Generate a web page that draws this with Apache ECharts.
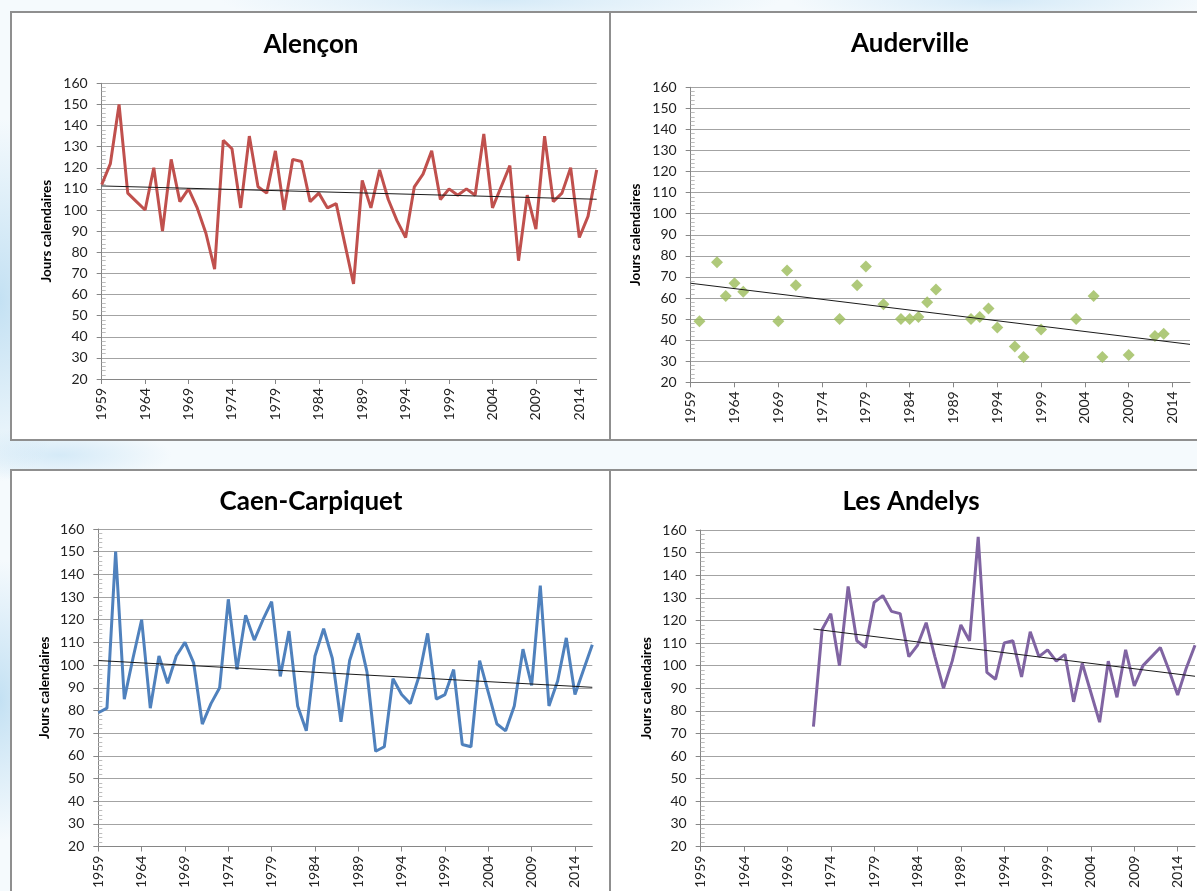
<!DOCTYPE html>
<html>
<head>
<meta charset="utf-8">
<script src="https://cdn.jsdelivr.net/npm/echarts@6/dist/echarts.min.js"></script>
<style>
  html, body { margin:0; padding:0; }
  body {
    width:1197px; height:891px; overflow:hidden; position:relative;
    background:
      radial-gradient(ellipse 120px 260px at 0px 300px, rgba(190,222,242,0.9), rgba(255,255,255,0) 70%),
      radial-gradient(ellipse 160px 40px at 60px 455px, rgba(205,230,246,0.8), rgba(255,255,255,0) 70%),
      radial-gradient(ellipse 400px 40px at 500px 0px, rgba(205,230,246,0.8), rgba(255,255,255,0) 70%),
      radial-gradient(ellipse 300px 40px at 1000px 0px, rgba(205,230,246,0.8), rgba(255,255,255,0) 70%),
      radial-gradient(ellipse 90px 200px at 0px 700px, rgba(190,222,242,0.9), rgba(255,255,255,0) 70%),
      #f5fafd;
  }
  .panel { position:absolute; background:#fff; border:2px solid #8f8f8f; box-sizing:border-box; }
  #chart { position:absolute; left:0; top:0; width:1197px; height:891px; }
</style>
</head>
<body>
<div class="panel" style="left:10px; top:11px; width:601px; height:430px;"></div>
<div class="panel" style="left:609px; top:11px; width:620px; height:430px;"></div>
<div class="panel" style="left:10px; top:469px; width:601px; height:440px;"></div>
<div class="panel" style="left:609px; top:469px; width:620px; height:440px;"></div>
<div id="chart"></div>
<script>
// ---- Data ----
const years = ['1959','1960','1961','1962','1963','1964','1965','1966','1967','1968',
  '1969','1970','1971','1972','1973','1974','1975','1976','1977','1978',
  '1979','1980','1981','1982','1983','1984','1985','1986','1987','1988',
  '1989','1990','1991','1992','1993','1994','1995','1996','1997','1998',
  '1999','2000','2001','2002','2003','2004','2005','2006','2007','2008',
  '2009','2010','2011','2012','2013','2014','2015','2016'];

const titles = ['Alençon', 'Auderville', 'Caen-Carpiquet', 'Les Andelys'];
const yAxisName = 'Jours calendaires';

const alenconValues = [112,122,150,108,104,100,120,90,124,104,
  110,101,89,72,133,129,101,135,111,108,
  128,100,124,123,104,108,101,103,84,65,
  114,101,119,105,95,87,111,117,128,105,
  110,107,110,107,136,101,111,121,76,107,
  91,135,104,108,120,87,97,119];

const audervilleYears = ['1960','1962','1963','1964','1965','1969','1970','1971','1976','1978',
  '1979','1981','1983','1984','1985','1986','1987','1991','1992','1993',
  '1994','1996','1997','1999','2003','2005','2006','2009','2012','2013'];
const audervilleValues = [49,77,61,67,63,49,73,66,50,66,
  75,57,50,50,51,58,64,50,51,55,
  46,37,32,45,50,61,32,33,42,43];

const caenValues = [79,81,150,85,103,120,81,104,92,104,
  110,101,74,83,90,129,98,122,111,120,
  128,95,115,82,71,104,116,103,75,102,
  114,97,62,64,94,87,83,95,114,85,
  87,98,65,64,102,88,74,71,82,107,
  91,135,82,93,112,87,98,109];

const andelysYears = ['1972','1973','1974','1975','1976','1977','1978','1979','1980','1981',
  '1982','1983','1984','1985','1986','1987','1988','1989','1990','1991',
  '1992','1993','1994','1995','1996','1997','1998','1999','2000','2001',
  '2002','2003','2004','2005','2006','2007','2008','2009','2010','2011',
  '2012','2013','2014','2015','2016'];
const andelysValues = [73,116,123,100,135,111,108,128,131,124,
  123,104,109,119,104,90,102,118,111,157,
  97,94,110,111,95,115,104,107,102,105,
  84,101,88,75,102,86,107,91,100,104,
  108,98,87,99,109];

// trend line endpoints (start year, end year) and values
const alenconTrend = { years: ['1959','2016'], values: [111.4, 105.1] };
const audervilleTrend = { years: ['1959','2016'], values: [67, 38] };
const caenTrend = { years: ['1959','2016'], values: [102, 90.2] };
const andelysTrend = { years: ['1972','2016'], values: [116.2, 95.3] };

const yMin = 20, yMax = 160, yStep = 10;

// ---- Layout ----
const grids = [
  { left: 101.7, top: 83.3, width: 495, height: 295.7 },
  { left: 690.7, top: 87.3, width: 499.3, height: 295 },
  { left: 98.3, top: 529, width: 494, height: 317.7 },
  { left: 700.7, top: 530, width: 494.3, height: 317.3 }
];
const titlePos = [[311, 45], [910, 44], [311, 502], [911, 502]];
const nameGaps = [48, 48, 47, 47];

const FONT = 'Lato, "Open Sans", sans-serif';

const chart = echarts.init(document.getElementById('chart'), null, { renderer: 'canvas' });

const xAxes = [], yAxes = [];
grids.forEach((g, i) => {
  xAxes.push({
    type: 'category', gridIndex: i, data: years, boundaryGap: false,
    axisLine: { lineStyle: { color: '#868686', width: 1 } },
    axisTick: { show: true, interval: 4, length: 5, lineStyle: { color: '#868686' } },
    axisLabel: { interval: 4, rotate: 90, margin: 9, color: '#222', fontSize: 14, fontFamily: FONT },
    splitLine: { show: false }
  });
  yAxes.push({
    type: 'value', gridIndex: i, min: yMin, max: yMax, interval: yStep,
    name: yAxisName, nameLocation: 'middle', nameGap: nameGaps[i], nameRotate: 90,
    nameTextStyle: { fontSize: 13.5, fontWeight: 'bold', color: '#000', fontFamily: FONT },
    axisLine: { show: true, lineStyle: { color: '#868686', width: 1 } },
    axisTick: { show: true, length: 5, lineStyle: { color: '#868686' } },
    axisLabel: { margin: 14, color: '#222', fontSize: 14, fontFamily: FONT },
    splitLine: { show: true, lineStyle: { color: '#a3a3a3', width: 1 } }
  });
});
// minor tick axes (inside)
grids.forEach((g, i) => {
  yAxes.push({
    type: 'value', gridIndex: i, min: yMin, max: yMax, interval: yStep, position: 'left',
    axisLine: { show: false }, axisLabel: { show: false }, splitLine: { show: false },
    axisTick: { show: false, inside: true },
    minorTick: { show: true, splitNumber: 5, length: 4, lineStyle: { color: '#bdbdbd', width: 1 } }
  });
});

const trendStyle = { color: '#1a1a1a', width: 1 };
function trendSeries(idx, t) {
  return {
    type: 'line', xAxisIndex: idx, yAxisIndex: idx, symbol: 'none', silent: true, z: 5,
    data: t.years.map((y, k) => [y, t.values[k]]),
    lineStyle: trendStyle, itemStyle: { color: '#1a1a1a' }
  };
}

const option = {
  animation: false,
  backgroundColor: 'transparent',
  grid: grids.map(g => Object.assign({ containLabel: false }, g)),
  xAxis: xAxes,
  yAxis: yAxes,
  graphic: titles.map((t, i) => ({
    type: 'text', x: titlePos[i][0], y: titlePos[i][1],
    style: { text: t, font: 'bold 26px ' + FONT, fill: '#000', align: 'center', verticalAlign: 'middle' }
  })),
  series: [
    { type: 'line', xAxisIndex: 0, yAxisIndex: 0, data: alenconValues, symbol: 'none',
      lineStyle: { color: '#c0504d', width: 3 }, itemStyle: { color: '#c0504d' } },
    trendSeries(0, alenconTrend),
    { type: 'scatter', xAxisIndex: 1, yAxisIndex: 1, symbol: 'diamond', symbolSize: 12,
      data: audervilleYears.map((y, k) => [y, audervilleValues[k]]),
      itemStyle: { color: '#9bbb59' } },
    trendSeries(1, audervilleTrend),
    { type: 'line', xAxisIndex: 2, yAxisIndex: 2, data: caenValues, symbol: 'none',
      lineStyle: { color: '#4f81bd', width: 3 }, itemStyle: { color: '#4f81bd' } },
    trendSeries(2, caenTrend),
    { type: 'line', xAxisIndex: 3, yAxisIndex: 3, symbol: 'none',
      data: andelysYears.map((y, k) => [y, andelysValues[k]]),
      lineStyle: { color: '#8064a2', width: 3 }, itemStyle: { color: '#8064a2' } },
    trendSeries(3, andelysTrend)
  ]
};
chart.setOption(option);
</script>
</body>
</html>
